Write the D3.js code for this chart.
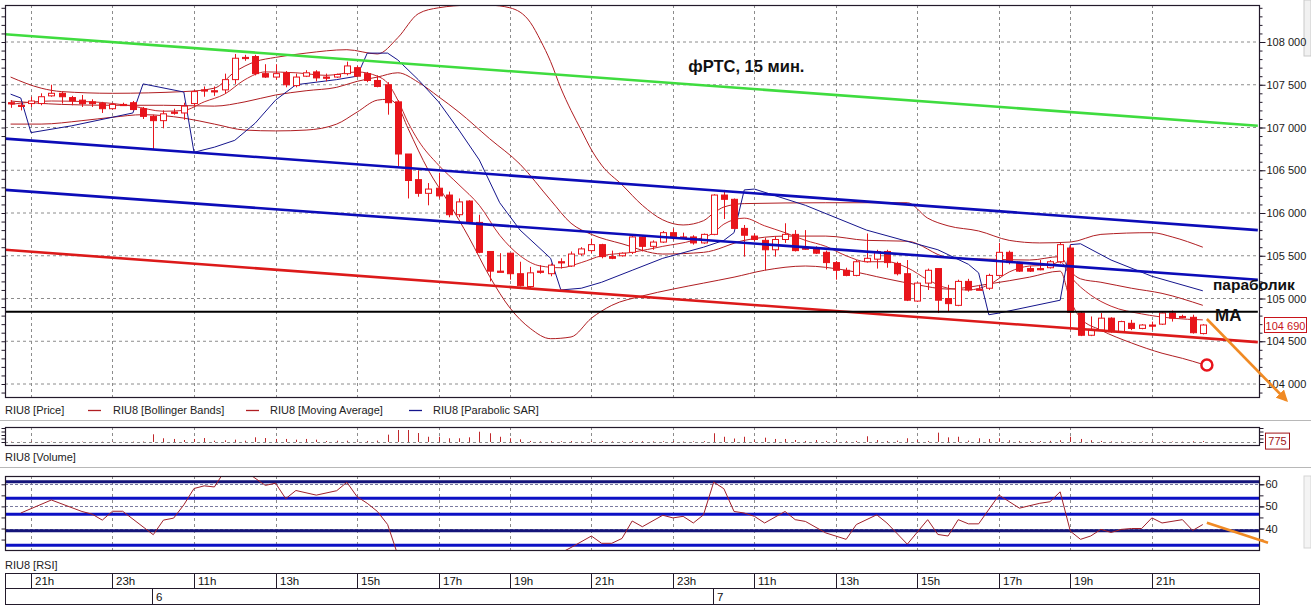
<!DOCTYPE html>
<html><head><meta charset="utf-8">
<script src="https://cdn.jsdelivr.net/npm/d3@7"></script>
<style>
body{margin:0;background:#fff;}
svg{display:block;font-family:"Liberation Sans",Arial,sans-serif;}
</style>
</head><body>
<svg id="c" width="1311" height="606"></svg>
<script>
// ---------- DATA ----------
const barOpen = [107290,107260,107280,107280,107370,107400,107350,107320,107300,107280,107220,107270,107290,107220,107130,107080,107180,107170,107280,107440,107430,107440,107560,107820,107830,107630,107590,107640,107490,107600,107650,107590,107590,107630,107700,107630,107550,107500,107300,106690,106390,106230,106290,106210,105980,106140,105890,105550,105320,105530,105290,105140,105320,105290,105430,105380,105520,105560,105630,105490,105500,105540,105720,105610,105660,105770,105720,105720,105650,105750,106210,106160,105820,105730,105680,105570,105690,105750,105590,105590,105540,105420,105330,105270,105430,105460,105550,105410,105290,104970,105180,105350,105000,104920,105200,105110,105120,105270,105540,105410,105350,105350,105360,105430,105590,104830,104570,104630,104770,104610,104710,104650,104690,104700,104830,104790,104780,104590];
const barHigh = [107320,107290,107360,107400,107500,107420,107370,107380,107330,107300,107290,107290,107310,107240,107150,107200,107220,107290,107440,107480,107480,107630,107860,107850,107850,107740,107740,107660,107630,107670,107670,107630,107630,107770,107720,107650,107610,107530,107320,106690,106500,106350,106470,106250,106170,106150,105980,105550,105530,105530,105430,105370,105390,105410,105470,105550,105600,105700,105640,105560,105540,105730,105730,105680,105790,105820,105770,105740,105760,106220,106270,106170,105860,105760,105710,105730,105880,105800,105800,105610,105560,105440,105360,105450,105760,105570,105570,105430,105450,105190,105350,105350,105160,105220,105230,105160,105290,105650,105560,105430,105380,105450,105450,105650,105630,104850,104790,104830,104780,104740,104750,104700,104730,104840,104860,104810,104810,104700];
const barLow = [107230,107200,107240,107260,107360,107280,107260,107240,107240,107170,107210,107260,107200,107100,106740,106990,107150,107090,107240,107360,107370,107400,107510,107780,107610,107580,107560,107470,107470,107590,107540,107540,107580,107610,107590,107530,107470,107150,106550,106170,106190,106090,106170,105950,105950,105870,105530,105200,105310,105220,105140,105120,105290,105260,105350,105370,105500,105530,105470,105460,105490,105520,105550,105570,105650,105680,105700,105630,105640,105740,105930,105810,105490,105670,105330,105490,105650,105550,105570,105520,105340,105220,105260,105260,105420,105350,105360,105270,104970,104960,105100,104830,104850,104910,105080,105100,105100,105260,105400,105310,105310,105330,105350,105410,104630,104560,104560,104620,104600,104600,104630,104640,104630,104690,104730,104770,104590,104580];
const barClose = [107280,107250,107310,107360,107400,107360,107310,107280,107280,107220,107270,107270,107210,107130,107080,107160,107180,107250,107420,107440,107430,107560,107810,107820,107630,107590,107630,107500,107590,107640,107580,107590,107620,107720,107600,107550,107480,107290,106690,106380,106230,106280,106200,105980,106130,105890,105540,105320,105310,105290,105150,105300,105320,105390,105430,105520,105580,105630,105490,105470,105530,105720,105610,105660,105770,105720,105720,105650,105750,106210,106160,105820,105740,105690,105570,105690,105750,105560,105590,105530,105420,105330,105270,105430,105470,105550,105420,105290,104980,105180,105330,104980,104940,105200,105100,105110,105270,105540,105420,105320,105320,105350,105430,105630,104840,104570,104640,104770,104610,104730,104650,104690,104690,104830,104770,104790,104600,104690];
const barVolume = [300,200,400,250,300,200,150,300,200,250,350,150,300,400,6600,3200,2600,1700,2600,3400,1100,1400,2000,1100,4000,3400,2600,2600,2000,2600,2000,860,1100,1100,600,900,1200,6300,10300,10300,7700,4500,4500,3200,3200,4000,8800,7500,4500,3200,2300,900,500,700,600,800,400,600,900,500,400,1000,700,500,600,800,400,500,700,7500,4500,3000,4500,1500,3700,2600,2600,1700,900,1700,900,1200,700,900,4900,1700,900,1200,3200,1700,900,8000,4000,4500,1200,3200,2600,3200,1500,900,700,800,1000,1500,4500,2600,1500,900,500,400,300,400,300,500,400,300,600,775];

// Bollinger Bands / Moving Average / Parabolic SAR (at bar indexes)
const bbUpperIdx = [0,3,5,10,17,20,22,24,26,29,33,36,38,40,42,45,47,49,51,52,53,54,55,56,57,58,60,62,64,66,68,69,70,72,80,88,90,92,95,98,101,104,107,112,114,117];
const bbUpperVal = [107590,107460,107420,107400,107420,107460,107650,107770,107820,107870,107910,107860,108050,108330,108400,108430,108430,108400,108230,108020,107770,107460,107200,106970,106740,106560,106330,106090,105920,105860,105910,106000,106070,106110,106120,106120,105940,105850,105790,105680,105650,105660,105750,105770,105720,105600];
const bbMidIdx = [0,5,10,15,20,23,26,29,32,34,36,38,40,42,44,47,50,53,55,57,60,64,68,72,76,80,84,88,92,96,100,103,104,105,107,110,113,117];
const bbMidVal = [107310,107270,107260,107260,107250,107300,107380,107430,107470,107540,107590,107640,107530,107360,107180,106870,106570,106150,105880,105750,105640,105520,105540,105680,105730,105730,105680,105670,105480,105460,105450,105490,105320,105230,105190,105120,105060,104920];
const bbLowerIdx = [0,3,7,10,13,17,20,23,26,29,32,34,36,37,38,39,41,43,45,47,49,51,53,55,57,59,62,65,68,71,74,78,82,86,89,92,96,100,103,104,105,107,110,113,115,117];
const bbLowerVal = [107040,107040,107080,107120,107150,107110,107040,106970,106960,106970,107040,107180,107320,107330,107250,106990,106500,106120,105710,105260,104890,104650,104530,104550,104770,104920,105030,105110,105180,105250,105330,105380,105330,105230,105160,105110,105170,105250,105320,104980,104770,104630,104480,104360,104300,104230];
const maIdx = [0,4,8,12,15,17,19,21,23,25,28,31,34,36,37,38,39,40,42,44,46,48,50,52,54,56,58,61,64,67,69,70,72,74,76,78,80,82,84,86,88,90,92,94,96,98,100,102,103,104,106,108,111,114,117];
const maVal = [107270,107310,107300,107250,107190,107200,107300,107390,107560,107650,107640,107610,107650,107600,107520,107320,107060,106850,106560,106330,106090,105740,105500,105380,105360,105420,105500,105540,105610,105680,105770,105870,105940,105850,105770,105680,105610,105500,105430,105430,105360,105220,105120,105100,105160,105310,105380,105390,105430,105260,105040,104910,104820,104770,104750];
const sarIdx = [0,1,2,6,12,13,17,18,20,22,24,26,28,32,34,35,37,38,40,42,44,46,48,50,53,54,56,58,61,64,68,70,71,72,73,78,84,91,94,95,96,97,103,104,105,108,112,117];
const sarVal = [107390,107345,106940,107020,107170,107510,107415,106710,106770,106850,107050,107320,107500,107560,107600,107870,107870,107790,107560,107300,106970,106620,106120,105800,105470,105100,105120,105190,105330,105470,105600,105680,105770,106270,106280,106090,105800,105570,105400,105300,104810,104830,104980,105630,105640,105450,105260,105090];

// RSI
const rsiIdx = [1,4,7,8,9,10,11,14,15,16,17,18,19,20,21,22,23,25,26,27,28,30,32,33,34,35,36,37,38,40,42,44,46,48,50,52,54,55,57,58,59,60,61,62,64,65,66,67,68,69,70,71,72,73,74,76,77,78,80,82,83,85,86,88,90,91,92,93,94,95,97,99,101,102,103,104,105,106,107,108,109,110,111,112,113,115,116,117];
const rsiVal = [47,52.9,47.7,46.5,43.8,47.8,47.8,37.2,43.8,44.7,50.7,58.1,59.3,58.8,66,68,66,59.5,60.5,53.5,57.2,55.1,57.1,60.9,54.4,51.4,47.7,41.8,28,22,20,21,16,18,19,24,29,31.4,36.6,33.3,33.3,35.5,43.4,40.8,46,44.8,45.5,42.5,46.2,61,58,47.7,47,45.5,42.5,47.7,44,43.2,38,35.1,41.8,46.2,42.5,32.9,44,37.3,36.6,44,42.1,42.1,55.1,49.2,51.4,52.1,56.6,38.8,35.1,36.6,39.6,38.2,39.6,40,40,44.8,42.5,44,39.1,41.8];
const rsiLevels = [61.1,53.7,46.4,39.0,32.4];

// Axes / labels
const priceTicks = [104000,104500,105000,105500,106000,106500,107000,107500,108000];
const rsiTicks = [40,50,60];
const timeTickIdx = [2,10,18,26,34,42,49,57,65,73,81,89,97,104,112];
const timeTickLabels = ["21h","23h","11h","13h","15h","17h","19h","21h","23h","11h","13h","15h","17h","19h","21h"];
const dayIdx = [14,69];
const dayLabels = ["6","7"];
const legendNames = ["RIU8 [Price]","RIU8 [Bollinger Bands]","RIU8 [Moving Average]","RIU8 [Parabolic SAR]"];

// Trend lines drawn on chart [idx, price]
const greenLine = [[-0.55,108090],[122.4,107020]];
const blueUpperLine = [[-0.55,106870],[122.4,105800]];
const blueLowerLine = [[-0.55,106270],[122.4,105220]];
const redTrendLine = [[-0.55,105570],[122.4,104490]];
const blackLevel = [[-0.55,104845],[122.4,104845]];
const titleText = "фРТС, 15 мин.";
const titlePos = [66.5,107650];
const sarNote = ["параболик",[118.0,105095]];
const maNote = ["MA",[118.2,104737]];
const arrowPrice = [[117.4,104760],[125.2,103810]];
const arrowRsi = [[117.4,42.6],[123.4,33.6]];
const circlePos = [117.4,104222];

// ---------- DRAW ----------
const svg = d3.select("#c");
const x = d3.scaleLinear().domain([0,117]).range([10.6,1202.8]);
const y = d3.scaleLinear().domain([104000,108000]).range([384,42]);
const yR = d3.scaleLinear().domain([40,60]).range([528.5,484.3]);
const yV = d3.scaleLinear().domain([0,12000]).range([442,428]);
const PL = 5, PR = 1259;
const MT = 5, MB = 397;
const VT = 427, VB = 445;
const RT = 476, RB = 550;
const frame = "#231a2b";
const red = "#e8141b";
const thinRed = "#b01e22";
const fmt = v => d3.format(",")(v).replace(/,/g," ");

svg.append("rect").attr("width",1311).attr("height",606).attr("fill","#fff");

const defs = svg.append("defs");
defs.append("clipPath").attr("id","cm").append("rect").attr("x",PL).attr("y",MT).attr("width",PR-PL).attr("height",MB-MT);
defs.append("clipPath").attr("id","cr").append("rect").attr("x",PL).attr("y",RT).attr("width",PR-PL).attr("height",RB-RT);
defs.append("clipPath").attr("id","cv").append("rect").attr("x",PL).attr("y",VT).attr("width",PR-PL).attr("height",VB-VT);
const mk = defs.append("marker").attr("id","ah").attr("viewBox","0 0 10 10").attr("refX",8).attr("refY",5)
  .attr("markerWidth",4.5).attr("markerHeight",4.5).attr("orient","auto");
mk.append("path").attr("d","M0,0 L10,5 L0,10 z").attr("fill","#f08a24");

// scrollbar hint on right
svg.append("rect").attr("x",1304).attr("y",0).attr("width",7).attr("height",56).attr("fill","#f1f1f1").attr("stroke","#c9c9c9");
svg.append("rect").attr("x",1304).attr("y",476).attr("width",7).attr("height",72).attr("fill","#f4f4f4").attr("stroke","#d5d5d5");

// ===== MAIN PANEL =====
const gm = svg.append("g");
const gmc = gm.append("g").attr("clip-path","url(#cm)");
gmc.selectAll(".hg").data(priceTicks).join("line")
  .attr("x1",PL).attr("x2",PR).attr("y1",d=>y(d)).attr("y2",d=>y(d))
  .attr("stroke","#8c8c8c").attr("stroke-dasharray","3,3").attr("stroke-width",1);
function vgrid(g,t,b){
  g.selectAll(null).data(timeTickIdx).join("line")
    .attr("x1",d=>Math.round(x(d))+0.5).attr("x2",d=>Math.round(x(d))+0.5).attr("y1",t).attr("y2",b)
    .attr("stroke","#8c8c8c").attr("stroke-dasharray","3,3").attr("stroke-width",1);
}
vgrid(gmc,MT,MB);

const curveLine = (idx,val) => d3.line().x(d=>x(d[0])).y(d=>y(d[1])).curve(d3.curveMonotoneX)(idx.map((d,i)=>[d,val[i]]));
gmc.append("path").attr("d",curveLine(bbUpperIdx,bbUpperVal)).attr("fill","none").attr("stroke",thinRed).attr("stroke-width",1);
gmc.append("path").attr("d",curveLine(bbMidIdx,bbMidVal)).attr("fill","none").attr("stroke",thinRed).attr("stroke-width",1);
gmc.append("path").attr("d",curveLine(bbLowerIdx,bbLowerVal)).attr("fill","none").attr("stroke",thinRed).attr("stroke-width",1);
gmc.append("path").attr("d",curveLine(maIdx,maVal)).attr("fill","none").attr("stroke","#c0282c").attr("stroke-width",1);
gmc.append("path").attr("d",d3.line().x(d=>x(d[0])).y(d=>y(d[1]))(sarIdx.map((d,i)=>[d,sarVal[i]])))
  .attr("fill","none").attr("stroke","#15158c").attr("stroke-width",1);

const bars = barOpen.map((o,i)=>({i,o,h:barHigh[i],l:barLow[i],c:barClose[i]}));
const cg = gmc.append("g");
cg.selectAll(".wick").data(bars).join("line")
  .attr("x1",d=>Math.round(x(d.i))+0.5).attr("x2",d=>Math.round(x(d.i))+0.5)
  .attr("y1",d=>y(d.h)).attr("y2",d=>y(d.l)).attr("stroke",red).attr("stroke-width",1);
cg.selectAll(".body").data(bars).join("rect")
  .attr("x",d=>Math.round(x(d.i))-2.5).attr("width",6)
  .attr("y",d=>y(Math.max(d.o,d.c)))
  .attr("height",d=>Math.max(1.2,Math.abs(y(d.o)-y(d.c))))
  .attr("fill",d=>d.c>d.o?"#fff":red).attr("stroke",red).attr("stroke-width",1);

const tl = d3.line().x(d=>x(d[0])).y(d=>y(d[1]));
gmc.append("path").attr("d",tl(greenLine)).attr("stroke","#3fdc3f").attr("stroke-width",2.6).attr("fill","none");
gmc.append("path").attr("d",tl(blueUpperLine)).attr("stroke","#0c0cb8").attr("stroke-width",2.6).attr("fill","none");
gmc.append("path").attr("d",tl(blueLowerLine)).attr("stroke","#0c0cb8").attr("stroke-width",2.6).attr("fill","none");
gmc.append("path").attr("d",tl(redTrendLine)).attr("stroke","#dc1a1a").attr("stroke-width",2.6).attr("fill","none");
gmc.append("path").attr("d",tl(blackLevel)).attr("stroke","#000").attr("stroke-width",2).attr("fill","none");

gm.append("rect").attr("x",PL+0.5).attr("y",MT+0.5).attr("width",PR-PL).attr("height",MB-MT)
  .attr("fill","none").attr("stroke",frame).attr("stroke-width",1.2);

const minorTicks = d3.range(103900,108500,100);
const axR = gm.append("g").attr("transform",`translate(${PR+0.5},0)`)
  .call(d3.axisRight(y).tickValues(minorTicks).tickSize(3).tickFormat(""));
axR.select(".domain").remove();
axR.selectAll("line").attr("stroke",frame);
const axR2 = gm.append("g").attr("transform",`translate(${PR+0.5},0)`)
  .call(d3.axisRight(y).tickValues(priceTicks).tickSize(6).tickPadding(1).tickFormat(fmt));
axR2.select(".domain").remove();
axR2.selectAll("line").attr("stroke",frame);
axR2.selectAll("text").attr("font-size",11).attr("fill","#1a1a1a").attr("font-family","Liberation Sans, Arial, sans-serif");
const axL = gm.append("g").attr("transform",`translate(${PL+0.5},0)`)
  .call(d3.axisLeft(y).tickValues(minorTicks.filter(v=>y(v)>MT && y(v)<MB)).tickSize(4).tickFormat(""));
axL.select(".domain").remove();
axL.selectAll("line").attr("stroke",frame);

const lastC = barClose[barClose.length-1];
gm.append("rect").attr("x",1264.5).attr("y",y(lastC)-7.5).attr("width",42).attr("height",15)
  .attr("fill","#fff").attr("stroke","#c8141b");
gm.append("text").attr("x",1285.5).attr("y",y(lastC)+4.5).attr("text-anchor","middle")
  .attr("font-size",11).attr("fill","#c8141b").text(fmt(lastC));

gm.append("text").attr("x",x(titlePos[0])).attr("y",y(titlePos[1])).attr("font-size",16.5).attr("font-weight","bold").attr("fill","#111").text(titleText);
gm.append("text").attr("x",x(sarNote[1][0])).attr("y",y(sarNote[1][1])).attr("font-size",15.5).attr("font-weight","bold").attr("fill","#111").text(sarNote[0]);
gm.append("text").attr("x",x(maNote[1][0])).attr("y",y(maNote[1][1])).attr("font-size",17).attr("font-weight","bold").attr("fill","#111").text(maNote[0]);
gm.append("circle").attr("cx",x(circlePos[0])).attr("cy",y(circlePos[1])).attr("r",5.5)
  .attr("fill","#fff").attr("stroke","#e8141b").attr("stroke-width",2.5);
gm.append("path").attr("d",tl(arrowPrice)).attr("stroke","#f08a24").attr("stroke-width",2.6)
  .attr("fill","none").attr("marker-end","url(#ah)");

const lg = svg.append("g").attr("font-size",11).attr("fill","#222");
const legX = [5,113,270,433];
const legDash = [null,[88,101,thinRed],[246,259,thinRed],[409,422,"#15158c"]];
legendNames.forEach((n,i)=>{
  lg.append("text").attr("x",legX[i]).attr("y",414).text(n);
  if(legDash[i]) lg.append("line").attr("x1",legDash[i][0]).attr("x2",legDash[i][1]).attr("y1",410.5).attr("y2",410.5)
    .attr("stroke",legDash[i][2]).attr("stroke-width",1.3);
});
svg.append("line").attr("x1",0).attr("x2",1311).attr("y1",420.5).attr("y2",420.5).attr("stroke","#b8b8b8");
svg.append("line").attr("x1",0).attr("x2",1311).attr("y1",467.5).attr("y2",467.5).attr("stroke","#b8b8b8");

// ===== VOLUME PANEL =====
const gv = svg.append("g");
const gvc = gv.append("g").attr("clip-path","url(#cv)");
vgrid(gvc,VT,VB);
gvc.append("line").attr("x1",PL).attr("x2",PR).attr("y1",yV(0)+0.5).attr("y2",yV(0)+0.5)
  .attr("stroke","#8c8c8c").attr("stroke-dasharray","3,3");
gvc.selectAll(".vb").data(barVolume).join("line")
  .attr("x1",(d,i)=>Math.round(x(i))+0.5).attr("x2",(d,i)=>Math.round(x(i))+0.5)
  .attr("y1",yV(0)).attr("y2",d=>yV(d)).attr("stroke","#c0282c").attr("stroke-width",1);
gv.append("rect").attr("x",PL+0.5).attr("y",VT+0.5).attr("width",PR-PL).attr("height",VB-VT)
  .attr("fill","none").attr("stroke",frame).attr("stroke-width",1.2);
const vTicks = [0,3000,6000,9000,12000];
const avR = gv.append("g").attr("transform",`translate(${PR+0.5},0)`).call(d3.axisRight(yV).tickValues(vTicks).tickSize(4).tickFormat(""));
avR.select(".domain").remove(); avR.selectAll("line").attr("stroke",frame);
const avL = gv.append("g").attr("transform",`translate(${PL+0.5},0)`).call(d3.axisLeft(yV).tickValues(vTicks).tickSize(4).tickFormat(""));
avL.select(".domain").remove(); avL.selectAll("line").attr("stroke",frame);
const lastV = barVolume[barVolume.length-1];
gv.append("rect").attr("x",1265.5).attr("y",yV(lastV)-8).attr("width",24).attr("height",16).attr("fill","#fff").attr("stroke","#a01418");
gv.append("text").attr("x",1277.5).attr("y",yV(lastV)+4).attr("text-anchor","middle").attr("font-size",11).attr("fill","#a01418").text(lastV);
svg.append("text").attr("x",5).attr("y",461).attr("font-size",11).attr("fill","#222").text("RIU8 [Volume]");

// ===== RSI PANEL =====
const gr = svg.append("g");
const grc = gr.append("g").attr("clip-path","url(#cr)");
vgrid(grc,RT,RB);
grc.selectAll(".rg").data(rsiTicks).join("line")
  .attr("x1",PL).attr("x2",PR).attr("y1",d=>Math.round(yR(d))+0.5).attr("y2",d=>Math.round(yR(d))+0.5)
  .attr("stroke","#7a7aa0").attr("stroke-dasharray","3,2");
grc.selectAll(".rl").data(rsiLevels).join("line")
  .attr("x1",PL).attr("x2",PR).attr("y1",d=>yR(d)).attr("y2",d=>yR(d))
  .attr("stroke",(d,i)=>(i===0||i===3)?"#14147a":"#0c10c4").attr("stroke-width",3);
grc.append("path").attr("d",d3.line().x(d=>x(d[0])).y(d=>yR(d[1]))(rsiIdx.map((d,i)=>[d,rsiVal[i]])))
  .attr("fill","none").attr("stroke","#a0202a").attr("stroke-width",1);
gr.append("rect").attr("x",PL+0.5).attr("y",RT+0.5).attr("width",PR-PL).attr("height",RB-RT)
  .attr("fill","none").attr("stroke",frame).attr("stroke-width",1.2);
const arMinor = gr.append("g").attr("transform",`translate(${PR+0.5},0)`)
  .call(d3.axisRight(yR).tickValues([35,40,45,50,55,60]).tickSize(4).tickFormat(""));
arMinor.select(".domain").remove(); arMinor.selectAll("line").attr("stroke",frame);
const arR = gr.append("g").attr("transform",`translate(${PR+0.5},0)`)
  .call(d3.axisRight(yR).tickValues(rsiTicks).tickSize(5).tickPadding(1).tickFormat(d3.format("d")));
arR.select(".domain").remove(); arR.selectAll("line").attr("stroke",frame);
arR.selectAll("text").attr("font-size",11).attr("fill","#1a1a1a").attr("font-family","Liberation Sans, Arial, sans-serif");
const arL = gr.append("g").attr("transform",`translate(${PL+0.5},0)`)
  .call(d3.axisLeft(yR).tickValues([35,40,45,50,55,60]).tickSize(4).tickFormat(""));
arL.select(".domain").remove(); arL.selectAll("line").attr("stroke",frame);
gr.append("path").attr("d",d3.line().x(d=>x(d[0])).y(d=>yR(d[1]))(arrowRsi))
  .attr("stroke","#f08a24").attr("stroke-width",2.6).attr("fill","none");
svg.append("text").attr("x",5).attr("y",569).attr("font-size",11).attr("fill","#222").text("RIU8 [RSI]");

// ===== TIME AXIS =====
const ta = svg.append("g");
const T1 = 573, T2 = 588.5, T3 = 604;
ta.append("rect").attr("x",PL+0.5).attr("y",T1+0.5).attr("width",PR-PL).attr("height",T3-T1).attr("fill","none").attr("stroke",frame);
ta.append("line").attr("x1",PL).attr("x2",PR).attr("y1",T2).attr("y2",T2).attr("stroke",frame);
ta.selectAll(".tt").data(timeTickIdx).join("line")
  .attr("x1",d=>Math.round(x(d))+0.5).attr("x2",d=>Math.round(x(d))+0.5).attr("y1",T1).attr("y2",T2).attr("stroke",frame);
ta.selectAll(".tl").data(timeTickIdx).join("text")
  .attr("x",d=>Math.round(x(d))+4).attr("y",T2-3.5).attr("font-size",11.5).attr("fill","#111")
  .text((d,i)=>timeTickLabels[i]);
ta.selectAll(".dt").data(dayIdx).join("line")
  .attr("x1",d=>Math.round(x(d))-0.5).attr("x2",d=>Math.round(x(d))-0.5).attr("y1",T2).attr("y2",T3).attr("stroke",frame);
ta.selectAll(".dl").data(dayIdx).join("text")
  .attr("x",d=>Math.round(x(d))+3).attr("y",T3-3).attr("font-size",11.5).attr("fill","#111")
  .text((d,i)=>dayLabels[i]);
</script>
</body></html>
